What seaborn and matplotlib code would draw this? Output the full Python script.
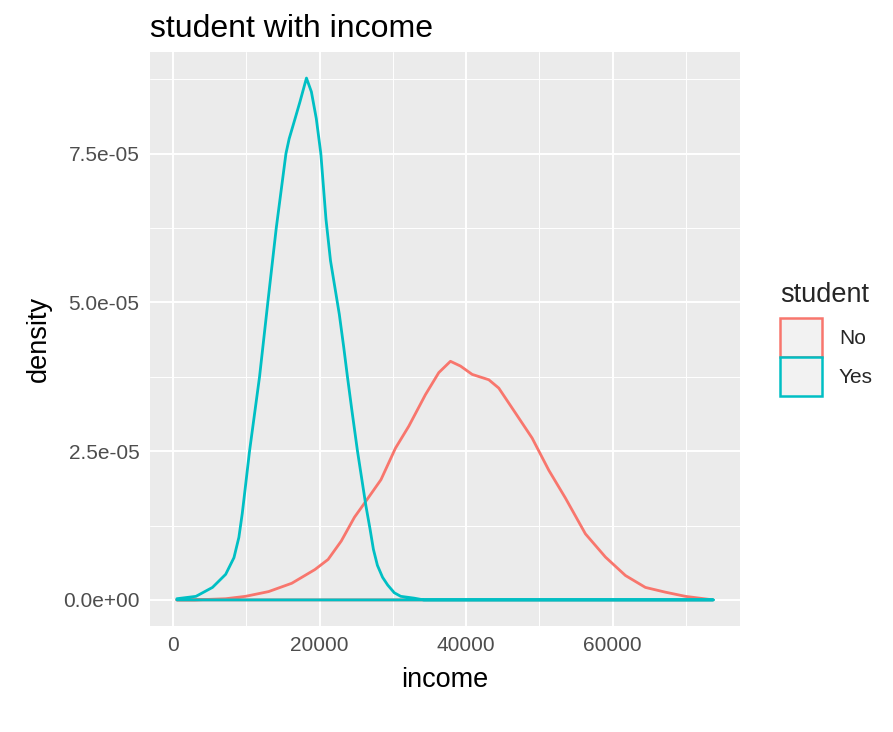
import pandas as pd
import matplotlib
matplotlib.use("Agg")
import matplotlib.pyplot as plt
from matplotlib.patches import Patch
from matplotlib.ticker import MultipleLocator
import seaborn as sns

# density curves (income, density)
no_income = [540, 3000, 7200, 9900, 13060, 16220, 19370, 21170, 22970, 24770,
             26330, 28380, 30360, 32180, 34450, 36270, 37860, 39230, 40820,
             43090, 44450, 46730, 49000, 51270, 53550, 56270, 59000, 61730,
             64450, 67180, 69910, 73700]
no_density = [0.0, 0.0, 0.02e-5, 0.06e-5, 0.14e-5, 0.28e-5, 0.51e-5, 0.68e-5,
              0.99e-5, 1.39e-5, 1.66e-5, 2.02e-5, 2.55e-5, 2.92e-5, 3.45e-5,
              3.82e-5, 4.01e-5, 3.93e-5, 3.79e-5, 3.70e-5, 3.56e-5, 3.14e-5,
              2.72e-5, 2.18e-5, 1.71e-5, 1.11e-5, 0.72e-5, 0.41e-5, 0.21e-5,
              0.13e-5, 0.06e-5, 0.0]

yes_income = [540, 3150, 5400, 7200, 8330, 9000, 9460, 9680, 10455, 11820,
              12950, 14100, 15420, 15860, 16670, 17330, 18220, 18890, 19560,
              20180, 20880, 21500, 22100, 22700, 23300, 23810, 24400, 25180,
              26330, 26880, 27350, 27900, 28600, 29300, 30200, 31080, 32880,
              34230, 50000, 73700]
yes_density = [0.02e-5, 0.06e-5, 0.21e-5, 0.43e-5, 0.71e-5, 1.05e-5, 1.45e-5,
               1.68e-5, 2.50e-5, 3.75e-5, 5.00e-5, 6.25e-5, 7.50e-5, 7.75e-5,
               8.09e-5, 8.37e-5, 8.77e-5, 8.54e-5, 8.09e-5, 7.50e-5, 6.40e-5,
               5.70e-5, 5.25e-5, 4.80e-5, 4.25e-5, 3.75e-5, 3.20e-5, 2.50e-5,
               1.58e-5, 1.20e-5, 0.85e-5, 0.58e-5, 0.38e-5, 0.25e-5, 0.12e-5,
               0.06e-5, 0.03e-5, 0.0, 0.0, 0.0]

groups = ["No", "Yes"]
colors = {"No": "#F8766D", "Yes": "#00BFC4"}

x_ticks = [0, 20000, 40000, 60000]
x_tick_labels = ["0", "20000", "40000", "60000"]
y_ticks = [0, 2.5e-5, 5.0e-5, 7.5e-5]
y_tick_labels = ["0.0e+00", "2.5e-05", "5.0e-05", "7.5e-05"]


def outline(xs, ys, name):
    # ggplot draws the density as a closed outline, so go back along the baseline
    xs = list(xs) + [xs[0]]
    ys = list(ys[:-1]) + [0.0, 0.0]
    return pd.DataFrame({"income": xs, "density": ys, "student": name})


df = pd.concat([outline(no_income, no_density, "No"),
                outline(yes_income, yes_density, "Yes")], ignore_index=True)

sns.set_theme(style="darkgrid", rc={
    "axes.facecolor": "#EBEBEB",
    "grid.color": "white",
    "axes.edgecolor": "#EBEBEB",
})
plt.rcParams["font.family"] = ["Liberation Sans", "DejaVu Sans"]

fig = plt.figure(figsize=(8.93, 7.32), dpi=100)
ax = fig.add_axes([0.168, 0.1448, 0.6607, 0.7842])

sns.lineplot(data=df, x="income", y="density", hue="student",
             palette=colors, sort=False, estimator=None, linewidth=2.0,
             legend=False, ax=ax)

ax.set_xticks(x_ticks, x_tick_labels)
ax.set_yticks(y_ticks, y_tick_labels)
ax.xaxis.set_minor_locator(MultipleLocator(10000))
ax.yaxis.set_minor_locator(MultipleLocator(1.25e-5))
ax.grid(which="major", color="white", linewidth=1.4)
ax.grid(which="minor", color="white", linewidth=0.7)
ax.margins(x=0.05, y=0.05)
for s in ax.spines.values():
    s.set_visible(False)

ax.tick_params(axis="both", which="major", length=4.5, width=1.1,
               color="#333333", labelsize=15, labelcolor="#4D4D4D", pad=3)
ax.tick_params(axis="both", which="minor", length=0)

ax.set_xlabel("income", fontsize=19.5, color="black", labelpad=8)
ax.set_ylabel("density", fontsize=19.5, color="black", labelpad=8)
ax.set_title("student with income", fontsize=23, loc="left", pad=11,
             color="black")

handles = [Patch(facecolor="#F2F2F2", edgecolor=colors[g], linewidth=1.8)
           for g in groups]
leg = fig.legend(handles, groups, title="student", loc="upper left",
                 bbox_to_anchor=(0.853, 0.640), frameon=False,
                 handlelength=2.0, handleheight=2.5, alignment="left",
                 fontsize=15, title_fontsize=19.5, labelspacing=0.0,
                 handletextpad=0.8)
leg._legend_box.sep = 7  # gap between title and keys

fig.savefig("out.png", dpi=100)
